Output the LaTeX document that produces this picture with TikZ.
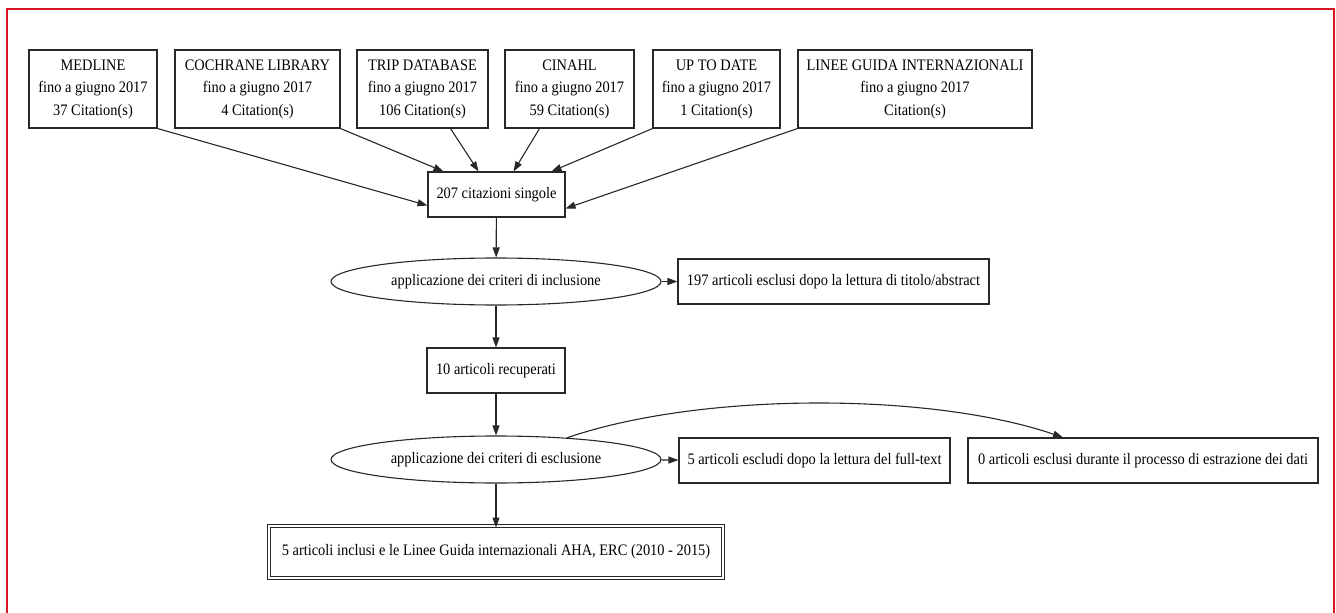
\documentclass[tikz,border=0pt]{standalone}
\usepackage{fontspec}
\setmainfont{Liberation Serif}[FakeStretch=0.9]
\usetikzlibrary{shapes.geometric,arrows.meta}

\definecolor{framered}{RGB}{214,22,32}
\definecolor{lineink}{RGB}{40,40,40}

\tikzset{
    every node/.style={font=\fontsize{16}{22.5}\selectfont, text=black},
    srcbox/.style={draw=lineink, line width=1.1pt, rectangle, align=center, minimum height=78, inner sep=3pt},
    stepbox/.style={draw=lineink, line width=1.1pt, rectangle, minimum height=45, inner sep=3pt},
    critell/.style={draw=lineink, line width=1.1pt, ellipse, minimum width=330, minimum height=47, inner sep=0pt},
    finalbox/.style={draw=lineink, line width=1pt, double, double distance=2.4pt, rectangle, minimum width=454, minimum height=52},
    arr/.style={draw=lineink, line width=1.1pt, -{Triangle[length=10pt,width=7pt]}}
}

\begin{document}
\begin{tikzpicture}[x=1pt, y=-1pt]
    \useasboundingbox (0,0) rectangle (1336,613);
    % red frame, open at the bottom
    \draw[framered, line width=2.6pt] (7,613) |- (1334,9) -- (1334,613);

    % sources
    \node[srcbox, minimum width=128] (medline) at (93,89) {MEDLINE\\fino a giugno 2017\\37 Citation(s)};
    \node[srcbox, minimum width=165] (cochrane) at (257.5,89) {COCHRANE LIBRARY\\fino a giugno 2017\\4 Citation(s)};
    \node[srcbox, minimum width=131] (trip) at (422.5,89) {TRIP DATABASE\\fino a giugno 2017\\106 Citation(s)};
    \node[srcbox, minimum width=129] (cinahl) at (569.5,89) {CINAHL\\fino a giugno 2017\\59 Citation(s)};
    \node[srcbox, minimum width=127] (uptodate) at (716.5,89) {UP TO DATE\\fino a giugno 2017\\1 Citation(s)};
    \node[srcbox, minimum width=234] (linee) at (915,89) {LINEE GUIDA INTERNAZIONALI\\fino a giugno 2017\\Citation(s)};

    % main flow
    \node[stepbox, minimum width=137] (cit) at (496.5,194.5) {207 citazioni singole};
    \node[critell] (incl) at (496,281.5) {applicazione dei criteri di inclusione};
    \node[stepbox, minimum width=311] (titolo) at (833.5,281.5) {197 articoli esclusi dopo la lettura di titolo/abstract};
    \node[stepbox, minimum width=138] (recup) at (496,370.5) {10 articoli recuperati};
    \node[critell] (escl) at (496,459.5) {applicazione dei criteri di esclusione};
    \node[stepbox, minimum width=271] (fulltext) at (814.5,460.5) {5 articoli escludi dopo la lettura del full-text};
    \node[stepbox, minimum width=350] (estraz) at (1143,460.5) {0 articoli esclusi durante il processo di estrazione dei dati};
    \node[finalbox] (final) at (496,552) {5 articoli inclusi e le Linee Guida internazionali AHA, ERC (2010 - 2015)};

    % sources into the citations
    \draw[arr] (medline.south east) -- ([yshift=-11pt]cit.west);
    \draw[arr] (cochrane.south east) -- ([xshift=-53pt]cit.north);
    \draw[arr] ([xshift=28pt]trip.south) -- ([xshift=-18pt]cit.north);
    \draw[arr] ([xshift=-30pt]cinahl.south) -- ([xshift=17pt]cit.north);
    \draw[arr] (uptodate.south west) -- ([xshift=55pt]cit.north);
    \draw[arr] (linee.south west) -- ([yshift=-14pt]cit.east);

    % down the flow
    \draw[arr] (cit) -- (incl);
    \draw[arr] (incl) -- (titolo);
    \draw[arr] (incl) -- (recup);
    \draw[arr] (recup) -- (escl);
    \draw[arr] (escl) -- (fulltext);
    \draw[arr] (escl.17) .. controls (700,392) and (930,392) .. ([xshift=-80pt]estraz.north);
    \draw[arr] (escl) -- ([yshift=-2pt]final.north);
\end{tikzpicture}
\end{document}
